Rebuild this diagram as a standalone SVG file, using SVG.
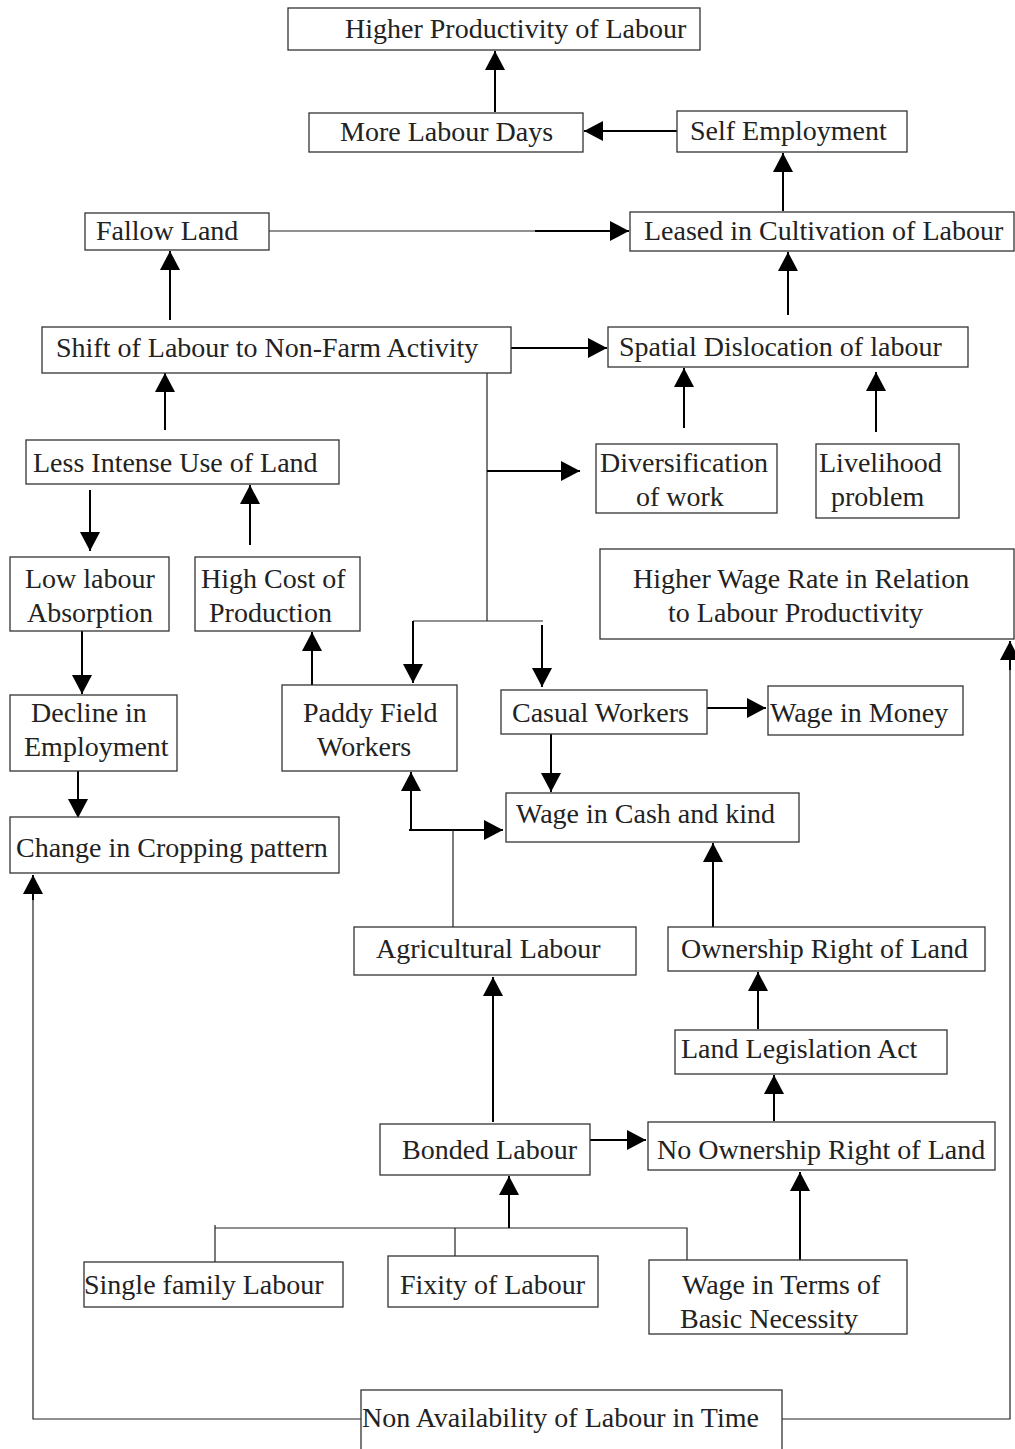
<svg xmlns="http://www.w3.org/2000/svg" width="1015" height="1449" viewBox="0 0 1015 1449">
<defs>
<style>
rect.b{fill:#fff;stroke:#333;stroke-width:1.3}
text{font-family:"Liberation Serif","Times New Roman",serif;font-size:28px;fill:#222}
.a{fill:none;stroke:#000;stroke-width:2;marker-end:url(#ah)}
.t{fill:none;stroke:#222;stroke-width:1.2}
</style>
<marker id="ah" markerUnits="userSpaceOnUse" markerWidth="20" markerHeight="20" refX="19" refY="10" orient="auto">
<path d="M0,0 L19,10 L0,20 z" fill="#000"/>
</marker>
</defs>
<rect width="1015" height="1449" fill="#fff"/>
<g id="connectors">
<path class="a" d="M495,112 V51"/>
<path class="a" d="M677,131 H584"/>
<path class="a" d="M783,211 V153"/>
<path class="t" d="M269,231 H540"/>
<path class="a" d="M535,231 H629"/>
<path class="a" d="M788,315 V252"/>
<path class="a" d="M170,320 V251"/>
<path class="a" d="M509,348 H607"/>
<path class="a" d="M165,430 V373"/>
<path class="t" d="M487,373 V621"/>
<path class="a" d="M487,471 H580"/>
<path class="a" d="M684,428 V368"/>
<path class="a" d="M876,432 V372"/>
<path class="a" d="M90,490 V551"/>
<path class="a" d="M250,545 V485"/>
<path class="a" d="M82,631 V694"/>
<path class="t" d="M413,621 H543"/>
<path class="a" d="M413,621 V683"/>
<path class="a" d="M542,625 V687"/>
<path class="a" d="M312,685 V632"/>
<path class="a" d="M707,708 H766"/>
<path class="a" d="M551,734 V792"/>
<path class="a" d="M411,831 V772"/>
<path class="a" d="M409,830 H503"/>
<path class="t" d="M453,927 V830"/>
<path class="a" d="M78,771 V818"/>
<path class="a" d="M713,927 V843"/>
<path class="a" d="M758,1029 V972"/>
<path class="a" d="M774,1121 V1075"/>
<path class="a" d="M590,1140 H646"/>
<path class="a" d="M493,1122 V977"/>
<path class="t" d="M215,1264 V1225 M215,1228 H687 V1260 M455,1228 V1258"/>
<path class="a" d="M509,1228 V1176"/>
<path class="a" d="M800,1262 V1172"/>
<path class="t" d="M361,1419 H33 V890"/>
<path class="a" d="M33,900 V875"/>
<path class="t" d="M782,1419 H1010 V660"/>
<path class="a" d="M1010,670 V641"/>
</g>
<g id="n1"><rect class="b" x="288" y="8" width="412" height="42"/><text x="345" y="38">Higher Productivity of Labour</text></g>
<g id="n2"><rect class="b" x="309" y="113" width="274" height="39"/><text x="340" y="141">More Labour Days</text></g>
<g id="n3"><rect class="b" x="677" y="111" width="230" height="41"/><text x="690" y="140">Self Employment</text></g>
<g id="n4"><rect class="b" x="85" y="213" width="184" height="37"/><text x="96" y="240">Fallow Land</text></g>
<g id="n5"><rect class="b" x="630" y="212" width="384" height="39"/><text x="644" y="240">Leased in Cultivation of Labour</text></g>
<g id="n6"><rect class="b" x="42" y="327" width="469" height="46"/><text x="56" y="357">Shift of Labour to Non-Farm Activity</text></g>
<g id="n7"><rect class="b" x="608" y="327" width="360" height="40"/><text x="619" y="356">Spatial Dislocation of labour</text></g>
<g id="n8"><rect class="b" x="26" y="440" width="313" height="44"/><text x="33" y="472">Less Intense Use of Land</text></g>
<g id="n9"><rect class="b" x="596" y="444" width="181" height="69"/><text x="600" y="472">Diversification</text><text x="636" y="506">of work</text></g>
<g id="n10"><rect class="b" x="816" y="444" width="143" height="74"/><text x="819" y="472">Livelihood</text><text x="831" y="506">problem</text></g>
<g id="n11"><rect class="b" x="600" y="549" width="414" height="90"/><text x="633" y="588">Higher Wage Rate in Relation</text><text x="668" y="622">to Labour Productivity</text></g>
<g id="n12"><rect class="b" x="10" y="557" width="159" height="74"/><text x="25" y="588">Low labour</text><text x="27" y="622">Absorption</text></g>
<g id="n13"><rect class="b" x="195" y="557" width="165" height="74"/><text x="201" y="588">High Cost of</text><text x="209" y="622">Production</text></g>
<g id="n14"><rect class="b" x="10" y="695" width="167" height="76"/><text x="31" y="722">Decline in</text><text x="24" y="756">Employment</text></g>
<g id="n15"><rect class="b" x="282" y="685" width="175" height="86"/><text x="303" y="722">Paddy Field</text><text x="317" y="756">Workers</text></g>
<g id="n16"><rect class="b" x="501" y="690" width="206" height="44"/><text x="512" y="722">Casual Workers</text></g>
<g id="n17"><rect class="b" x="768" y="686" width="195" height="49"/><text x="770" y="722">Wage in Money</text></g>
<g id="n18"><rect class="b" x="506" y="793" width="293" height="49"/><text x="516" y="823">Wage in Cash and kind</text></g>
<g id="n19"><rect class="b" x="10" y="817" width="329" height="56"/><text x="16" y="857">Change in Cropping pattern</text></g>
<g id="n20"><rect class="b" x="354" y="927" width="282" height="48"/><text x="376" y="958">Agricultural Labour</text></g>
<g id="n21"><rect class="b" x="668" y="927" width="317" height="44"/><text x="681" y="958">Ownership Right of Land</text></g>
<g id="n22"><rect class="b" x="675" y="1030" width="272" height="44"/><text x="681" y="1058">Land Legislation Act</text></g>
<g id="n23"><rect class="b" x="380" y="1124" width="210" height="51"/><text x="402" y="1159">Bonded Labour</text></g>
<g id="n24"><rect class="b" x="648" y="1122" width="347" height="48"/><text x="657" y="1159">No Ownership Right of Land</text></g>
<g id="n25"><rect class="b" x="84" y="1262" width="259" height="45"/><text x="84" y="1294">Single family Labour</text></g>
<g id="n26"><rect class="b" x="388" y="1256" width="210" height="51"/><text x="400" y="1294">Fixity of Labour</text></g>
<g id="n27"><rect class="b" x="649" y="1260" width="258" height="74"/><text x="682" y="1294">Wage in Terms of</text><text x="680" y="1328">Basic Necessity</text></g>
<g id="n28"><rect class="b" x="361" y="1390" width="421" height="70"/><text x="362" y="1427">Non Availability of Labour in Time</text></g>
</svg>
